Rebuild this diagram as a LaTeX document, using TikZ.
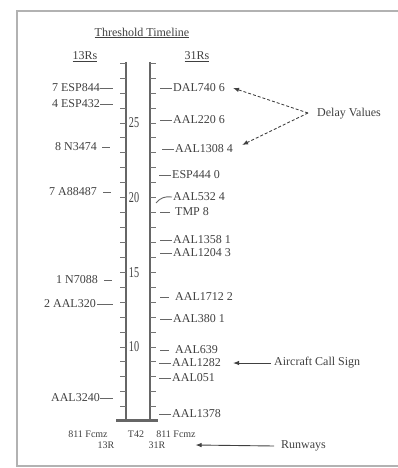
\documentclass[tikz,border=0pt]{standalone}
\usepackage{fontspec}
\setmainfont{Liberation Serif}
\usetikzlibrary{arrows.meta}
\begin{document}
\begin{tikzpicture}[x=1pt,y=-1pt,
  txt/.style={inner sep=0pt, text=black!75, font=\fontsize{12}{14}\selectfont},
  small/.style={inner sep=0pt, text=black!75, font=\fontsize{10}{12}\selectfont},
  llab/.style={txt, anchor=east},
  rlab/.style={txt, anchor=west},
  lead/.style={draw=black!60, line width=0.9pt},
  axisline/.style={draw=black!60, line width=1.8pt},
  tickmark/.style={draw=black!55, line width=1pt},
  dasharrow/.style={draw=black!75, line width=0.9pt, dash pattern=on 3pt off 2pt, -{Latex[length=6pt,width=4.5pt]}},
  solidarrow/.style={draw=black!75, line width=0.9pt, -{Latex[length=6pt,width=4.5pt]}},
]
\useasboundingbox (0,0) rectangle (398,468);
% frame
\draw[black!30, line width=2pt] (398,11) -- (17,11) -- (17,466) -- (398,466);

% title and headers
\node[txt] (title) at (142,33) {\underline{Threshold Timeline}};
\node[txt] (h1) at (85,57) {\underline{13Rs}};
\node[txt] (h2) at (197,57) {\underline{31Rs}};

% axes
\coordinate (lt) at (126,62); \coordinate (lb) at (126,420);
\coordinate (rt) at (150,62); \coordinate (rb) at (150,420);
\coordinate (bl) at (116,420); \coordinate (br) at (158,420);
\draw[axisline] (lt) -- (lb);
\draw[axisline] (rt) -- (rb);
\draw[black!60, line width=3pt] (bl) -- (br);
\foreach \m in {6,...,29} {
  \pgfmathsetmacro\yy{347-(\m-10)*14.93}
  \draw[tickmark] (120,\yy) -- (126,\yy);
  \draw[tickmark] (150,\yy) -- (156,\yy);
}
\foreach \n in {10,15,20,25} {
  \pgfmathsetmacro\yy{347-(\n-10)*14.93}
  \node[txt] (num\n) at (134,\yy) {\scalebox{0.85}[1.25]{\n}};
}

% left labels
\node[llab] (l1) at (100,88) {7 ESP844};
\node[llab] (l2) at (100,104) {4 ESP432};
\node[llab] (l3) at (97,147) {8 N3474};
\node[llab] (l4) at (97,192) {7 A88487};
\node[llab] (l5) at (98,280) {1 N7088};
\node[llab] (l6) at (96,304) {2 AAL320};
\node[llab] (l7) at (100,398) {AAL3240};
\draw[lead] (l1.east) -- ++(13,0);
\draw[lead] (l2.east) -- ++(13,0);
\draw[lead] ([xshift=5pt]l3.east) -- ++(8,0);
\draw[lead] ([xshift=6pt]l4.east) -- ++(8,0);
\draw[lead] ([xshift=6pt]l5.east) -- ++(8,0);
\draw[lead] ([xshift=1pt]l6.east) -- ++(16,0);
\draw[lead] (l7.east) -- ++(13,0);

% right labels
\node[rlab] (r1) at (173,88) {DAL740 6};
\node[rlab] (r2) at (173,120) {AAL220 6};
\node[rlab] (r3) at (175,149) {AAL1308 4};
\node[rlab] (r4) at (172,175) {ESP444 0};
\node[rlab] (r5) at (173,197) {AAL532 4};
\node[rlab] (r6) at (175,212) {TMP 8};
\node[rlab] (r7) at (173,240) {AAL1358 1};
\node[rlab] (r8) at (173,253) {AAL1204 3};
\node[rlab] (r9) at (175,297) {AAL1712 2};
\node[rlab] (r10) at (173,319) {AAL380 1};
\node[rlab] (r11) at (175,350) {AAL639};
\node[rlab] (r12) at (172,363) {AAL1282};
\node[rlab] (r13) at (172,378) {AAL051};
\node[rlab] (r14) at (172,414) {AAL1378};
\foreach \r in {r1,r2,r3,r4,r7,r8,r10,r12,r13,r14} {
  \draw[lead] ([xshift=-1pt]\r.west) -- ++(-12,0);
}
\draw[lead] ([xshift=-5pt]r6.west) -- ++(-10,0);
\draw[lead] ([xshift=-6pt]r9.west) -- ++(-9,0);
\draw[lead] ([xshift=-6pt]r11.west) -- ++(-9,0);
\draw[lead] ([xshift=-1pt]r5.west) .. controls (165,196) and (160,198) .. (156,203);

% bottom runway labels
\node[small] (b1) at (88,434) {811 Fcmz};
\node[small] (b2) at (136,434) {T42};
\node[small] (b3) at (176,434) {811 Fcmz};
\node[small] (b4) at (106,445) {13R};
\node[small] (b5) at (157,445) {31R};

% annotations
\node[rlab] (dv) at (317,114) {Delay Values};
\coordinate (dvp) at (308,113);
\draw[dasharrow] (dvp) -- ([xshift=8pt]r1.east);
\draw[dasharrow] (dvp) -- ([xshift=9pt,yshift=4pt]r3.east);
\node[rlab] (acs) at (274,363) {Aircraft Call Sign};
\draw[solidarrow] ([xshift=-3pt]acs.west) -- ([xshift=12pt]r12.east);
\node[rlab] (rw) at (281,446) {Runways};
\draw[solidarrow] ([xshift=-7pt]rw.west) -- ([xshift=30pt]b5.east);
\end{tikzpicture}
\end{document}
